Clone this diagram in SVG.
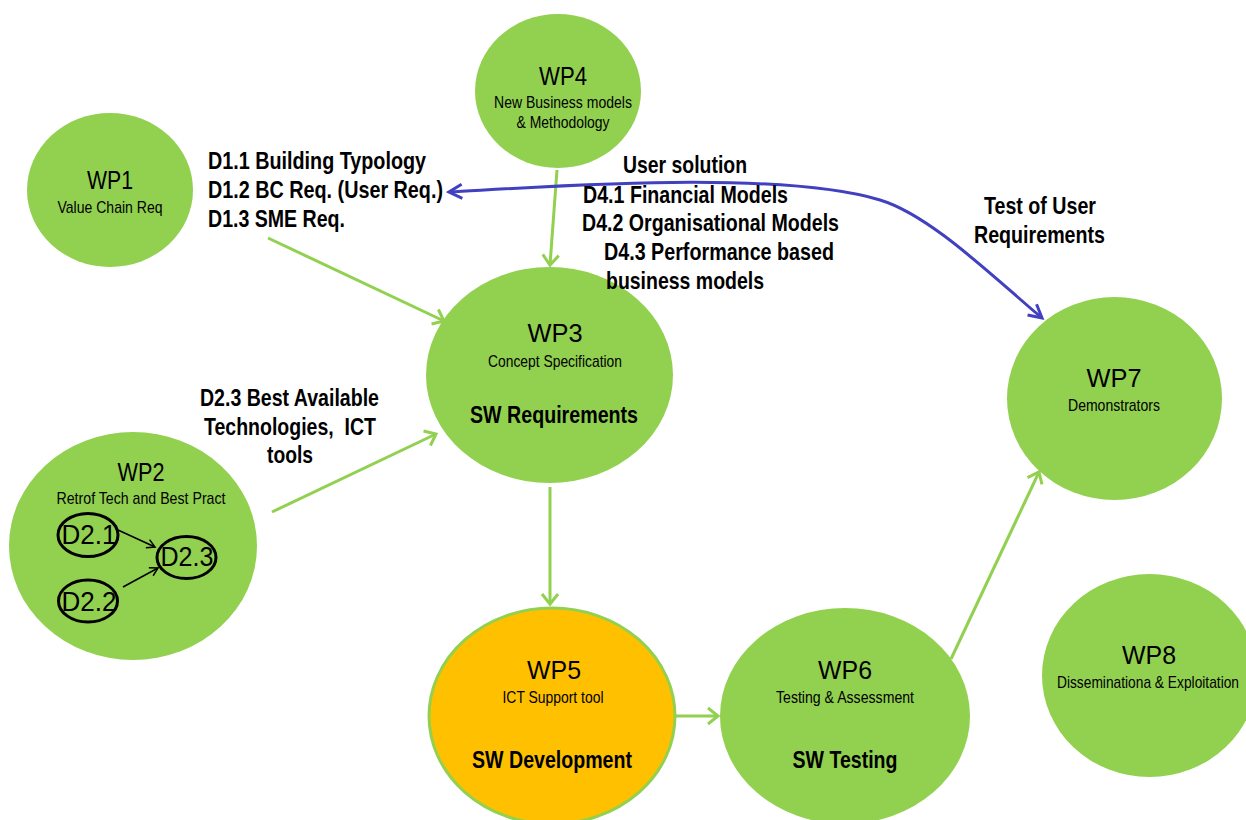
<svg xmlns="http://www.w3.org/2000/svg" width="1246" height="820" viewBox="0 0 1246 820">
  <style>
    .wp { fill: #92D050; }
    .wp-dev { fill: #FFC000; stroke: #92D050; stroke-width: 3; }
    text { font-family: "Liberation Sans Narrow", "Liberation Sans", Arial, sans-serif; fill: #000; }
    .title { font-size: 26px; text-anchor: middle; }
    .sub { font-size: 17px; text-anchor: middle; }
    .bold { font-size: 24px; font-weight: bold; }
    .mid { text-anchor: middle; }
    .deliv { font-size: 27px; text-anchor: middle; }
    .d-ring { fill: none; stroke: #000; stroke-width: 3; }
    .flow { fill: none; stroke: #92D050; stroke-width: 3; marker-end: url(#ah-green); }
    .user { fill: none; stroke: #4040C0; stroke-width: 3; marker-start: url(#ah-blue); marker-end: url(#ah-blue); }
    .inner { fill: none; stroke: #000; stroke-width: 1.5; marker-end: url(#ah-black); }
  </style>
  <defs>
    <marker id="ah-green" viewBox="-2 -10 16 20" markerWidth="16" markerHeight="20" refX="10" refY="0" orient="auto" markerUnits="userSpaceOnUse">
      <path d="M0,-8 L10,0 L0,8" fill="none" stroke="#92D050" stroke-width="3"/>
    </marker>
    <marker id="ah-blue" viewBox="-2 -9 18 18" markerWidth="18" markerHeight="18" refX="13" refY="0" orient="auto-start-reverse" markerUnits="userSpaceOnUse">
      <path d="M0,-7 L13,0 L0,7" fill="none" stroke="#4040C0" stroke-width="3"/>
    </marker>
    <marker id="ah-black" viewBox="-1 -6 11 12" markerWidth="11" markerHeight="12" refX="8" refY="0" orient="auto" markerUnits="userSpaceOnUse">
      <path d="M0,-4.5 L8,0 L0,4.5" fill="none" stroke="#000" stroke-width="1.5"/>
    </marker>
  </defs>

  <rect width="1246" height="820" fill="#fff"/>

  <!-- work packages -->
  <g id="wp1">
    <ellipse class="wp" cx="110" cy="190" rx="83" ry="77"/>
    <text class="title" x="110" y="189" textLength="46" lengthAdjust="spacingAndGlyphs">WP1</text>
    <text class="sub" x="110" y="213" textLength="105" lengthAdjust="spacingAndGlyphs">Value Chain Req</text>
  </g>

  <g id="wp2">
    <ellipse class="wp" cx="133" cy="546" rx="124" ry="114"/>
    <text class="title" x="141" y="481" textLength="47" lengthAdjust="spacingAndGlyphs">WP2</text>
    <text class="sub" x="141" y="504" textLength="169" lengthAdjust="spacingAndGlyphs">Retrof Tech and Best Pract</text>
    <g id="d2-1">
      <ellipse class="d-ring" cx="88" cy="535" rx="30" ry="21.5"/>
      <text class="deliv" x="89" y="544" textLength="55" lengthAdjust="spacingAndGlyphs">D2.1</text>
    </g>
    <g id="d2-2">
      <ellipse class="d-ring" cx="88" cy="601" rx="29.5" ry="21"/>
      <text class="deliv" x="89" y="611" textLength="55" lengthAdjust="spacingAndGlyphs">D2.2</text>
    </g>
    <g id="d2-3">
      <ellipse class="d-ring" cx="186.5" cy="557.5" rx="29.5" ry="21"/>
      <text class="deliv" x="187" y="566" textLength="53" lengthAdjust="spacingAndGlyphs">D2.3</text>
    </g>
    <path class="inner" d="M118,530 L155,547"/>
    <path class="inner" d="M123,587 L158,568"/>
  </g>

  <g id="wp3">
    <ellipse class="wp" cx="549.5" cy="375" rx="123.5" ry="108"/>
    <text class="title" x="555" y="342" textLength="55" lengthAdjust="spacingAndGlyphs">WP3</text>
    <text class="sub" x="555" y="367" textLength="134" lengthAdjust="spacingAndGlyphs">Concept Specification</text>
    <text class="bold mid" x="554" y="423" textLength="168" lengthAdjust="spacingAndGlyphs">SW Requirements</text>
  </g>

  <g id="wp4">
    <ellipse class="wp" cx="558" cy="91" rx="83" ry="77"/>
    <text class="title" x="563" y="85" textLength="48" lengthAdjust="spacingAndGlyphs">WP4</text>
    <text class="sub" x="563" y="108" textLength="138" lengthAdjust="spacingAndGlyphs">New Business models</text>
    <text class="sub" x="563" y="128" textLength="93" lengthAdjust="spacingAndGlyphs">&amp; Methodology</text>
  </g>

  <g id="wp5">
    <ellipse class="wp-dev" cx="552" cy="716" rx="123" ry="108"/>
    <text class="title" x="554" y="679" textLength="54" lengthAdjust="spacingAndGlyphs">WP5</text>
    <text class="sub" x="553" y="703" textLength="101" lengthAdjust="spacingAndGlyphs">ICT Support tool</text>
    <text class="bold mid" x="552" y="768" textLength="160" lengthAdjust="spacingAndGlyphs">SW Development</text>
  </g>

  <g id="wp6">
    <ellipse class="wp" cx="845" cy="716" rx="125" ry="108"/>
    <text class="title" x="845" y="679" textLength="54" lengthAdjust="spacingAndGlyphs">WP6</text>
    <text class="sub" x="845" y="703" textLength="138" lengthAdjust="spacingAndGlyphs">Testing &amp; Assessment</text>
    <text class="bold mid" x="845" y="768" textLength="105" lengthAdjust="spacingAndGlyphs">SW Testing</text>
  </g>

  <g id="wp7">
    <ellipse class="wp" cx="1114.5" cy="398.5" rx="107.5" ry="101.5"/>
    <text class="title" x="1114" y="387" textLength="55" lengthAdjust="spacingAndGlyphs">WP7</text>
    <text class="sub" x="1114" y="411" textLength="92" lengthAdjust="spacingAndGlyphs">Demonstrators</text>
  </g>

  <g id="wp8">
    <ellipse class="wp" cx="1149.5" cy="675.5" rx="107.5" ry="101.5"/>
    <text class="title" x="1149" y="664" textLength="54" lengthAdjust="spacingAndGlyphs">WP8</text>
    <text class="sub" x="1148" y="688" textLength="182" lengthAdjust="spacingAndGlyphs">Disseminationa &amp; Exploitation</text>
  </g>

  <!-- connectors -->
  <g id="connectors">
    <path class="flow" d="M268,238 L444,321"/>
    <path class="flow" d="M272,512 L436,434"/>
    <path class="flow" d="M557,170 L550,265"/>
    <path class="flow" d="M550,487 L550,604"/>
    <path class="flow" d="M676,716 L718,716"/>
    <path class="flow" d="M951,659 L1039,472"/>
    <path class="user" d="M449,192 C560,186 780,170 880,200 C930,215 992,276 1042,318"/>
  </g>

  <!-- deliverable labels -->
  <g id="labels">
    <text class="bold" x="208" y="169" textLength="218" lengthAdjust="spacingAndGlyphs">D1.1 Building Typology</text>
    <text class="bold" x="208" y="198" textLength="235" lengthAdjust="spacingAndGlyphs">D1.2 BC Req. (User Req.)</text>
    <text class="bold" x="208" y="227" textLength="137" lengthAdjust="spacingAndGlyphs">D1.3 SME Req.</text>

    <text class="bold" x="623" y="173" textLength="124" lengthAdjust="spacingAndGlyphs">User solution</text>
    <text class="bold" x="583" y="203" textLength="205" lengthAdjust="spacingAndGlyphs">D4.1 Financial Models</text>
    <text class="bold" x="582" y="231" textLength="257" lengthAdjust="spacingAndGlyphs">D4.2 Organisational Models</text>
    <text class="bold" x="604" y="260" textLength="230" lengthAdjust="spacingAndGlyphs">D4.3 Performance based</text>
    <text class="bold" x="606" y="289" textLength="158" lengthAdjust="spacingAndGlyphs">business models</text>

    <text class="bold" x="984" y="214" textLength="112" lengthAdjust="spacingAndGlyphs">Test of User</text>
    <text class="bold" x="974" y="243" textLength="131" lengthAdjust="spacingAndGlyphs">Requirements</text>

    <text class="bold" x="200" y="406" textLength="179" lengthAdjust="spacingAndGlyphs">D2.3 Best Available</text>
    <text class="bold" x="204" y="435" textLength="172" lengthAdjust="spacingAndGlyphs" xml:space="preserve">Technologies,  ICT</text>
    <text class="bold" x="267" y="463" textLength="46" lengthAdjust="spacingAndGlyphs">tools</text>
  </g>
</svg>
